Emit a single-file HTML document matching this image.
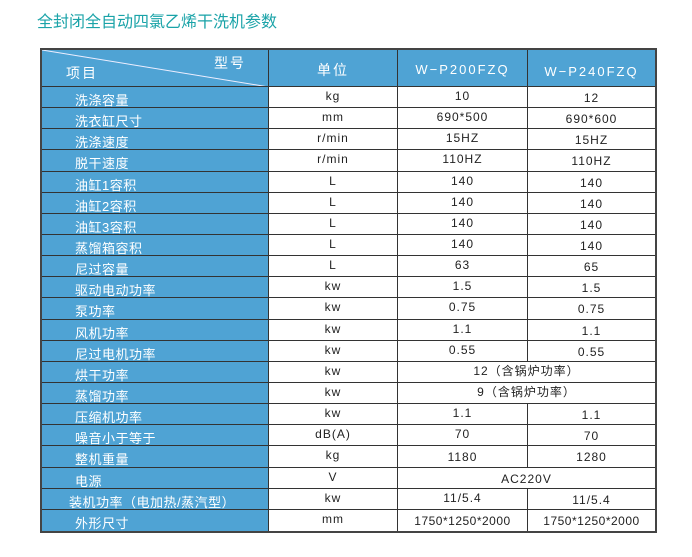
<!DOCTYPE html>
<html><head><meta charset="utf-8"><style>
body{margin:0;width:692px;height:557px;background:#fff;position:relative;font-family:"Liberation Sans","Noto Sans CJK SC",sans-serif;overflow:hidden}
.t{position:absolute;left:37px;top:8px;font-size:16px;color:#1aa3a8}
.g{position:absolute;left:40px;top:48px;width:617px;height:485px;box-sizing:border-box;border:2px solid #444;display:grid;grid-template-columns:227px 129px 130px 127px;grid-template-rows:37px repeat(21,1fr);background:#fff}
.g>div{box-sizing:border-box;border-right:1px solid #333;border-bottom:1px solid #333;overflow:hidden;font-size:12px;color:#222;text-align:center;line-height:14px;padding-top:2px;letter-spacing:1px;white-space:nowrap}
.g>div.l{background:#4fa3d4;color:#fff;text-align:left;padding-left:33px;font-size:13px;padding-top:6px;line-height:15px;letter-spacing:0.5px}
.g>div.h{background:#4fa3d4;color:#fff;font-size:14px;padding-top:13px;letter-spacing:2px}
.g>div.r{padding-top:4px;border-right:none}
.g>div.s{grid-column:span 2;border-right:none}
.g>div.b{border-bottom:none}
</style></head><body>
<div class="t">全封闭全自动四氯乙烯干洗机参数</div>
<div class="g">
<div class="h" style="position:relative;padding:0"><svg style="position:absolute;left:0;top:0" width="227" height="37"><line x1="0" y1="0" x2="227" y2="37" stroke="#eef" stroke-width="1"/></svg><span style="position:absolute;left:24px;top:16px">项目</span><span style="position:absolute;left:172px;top:6px">型号</span></div><div class="h">单位</div><div class="h" style="font-size:13px">W−P200FZQ</div><div class="h" style="font-size:13px;padding-top:15px;border-right:none">W−P240FZQ</div>
<div class="l">洗涤容量</div><div>kg</div><div>10</div><div class="r">12</div>
<div class="l">洗衣缸尺寸</div><div>mm</div><div>690*500</div><div class="r">690*600</div>
<div class="l">洗涤速度</div><div>r/min</div><div>15HZ</div><div class="r">15HZ</div>
<div class="l">脱干速度</div><div>r/min</div><div>110HZ</div><div class="r">110HZ</div>
<div class="l">油缸1容积</div><div>L</div><div>140</div><div class="r">140</div>
<div class="l">油缸2容积</div><div>L</div><div>140</div><div class="r">140</div>
<div class="l">油缸3容积</div><div>L</div><div>140</div><div class="r">140</div>
<div class="l">蒸馏箱容积</div><div>L</div><div>140</div><div class="r">140</div>
<div class="l">尼过容量</div><div>L</div><div>63</div><div class="r">65</div>
<div class="l">驱动电动功率</div><div>kw</div><div>1.5</div><div class="r">1.5</div>
<div class="l">泵功率</div><div>kw</div><div>0.75</div><div class="r">0.75</div>
<div class="l">风机功率</div><div>kw</div><div>1.1</div><div class="r">1.1</div>
<div class="l">尼过电机功率</div><div>kw</div><div>0.55</div><div class="r">0.55</div>
<div class="l">烘干功率</div><div>kw</div><div class="s">12（含锅炉功率）</div>
<div class="l">蒸馏功率</div><div>kw</div><div class="s">9（含锅炉功率）</div>
<div class="l">压缩机功率</div><div>kw</div><div>1.1</div><div class="r">1.1</div>
<div class="l">噪音小于等于</div><div>dB(A)</div><div>70</div><div class="r">70</div>
<div class="l">整机重量</div><div>kg</div><div style="padding-top:4px">1180</div><div class="r">1280</div>
<div class="l">电源</div><div>V</div><div class="s" style="padding-top:4px">AC220V</div>
<div class="l" style="padding-left:27px">装机功率（电加热/蒸汽型）</div><div>kw</div><div>11/5.4</div><div class="r">11/5.4</div>
<div class="l b">外形尺寸</div><div class="b">mm</div><div class="b" style="padding-top:4px;letter-spacing:0.5px">1750*1250*2000</div><div class="r b" style="letter-spacing:0.5px">1750*1250*2000</div>
</div>
</body></html>
